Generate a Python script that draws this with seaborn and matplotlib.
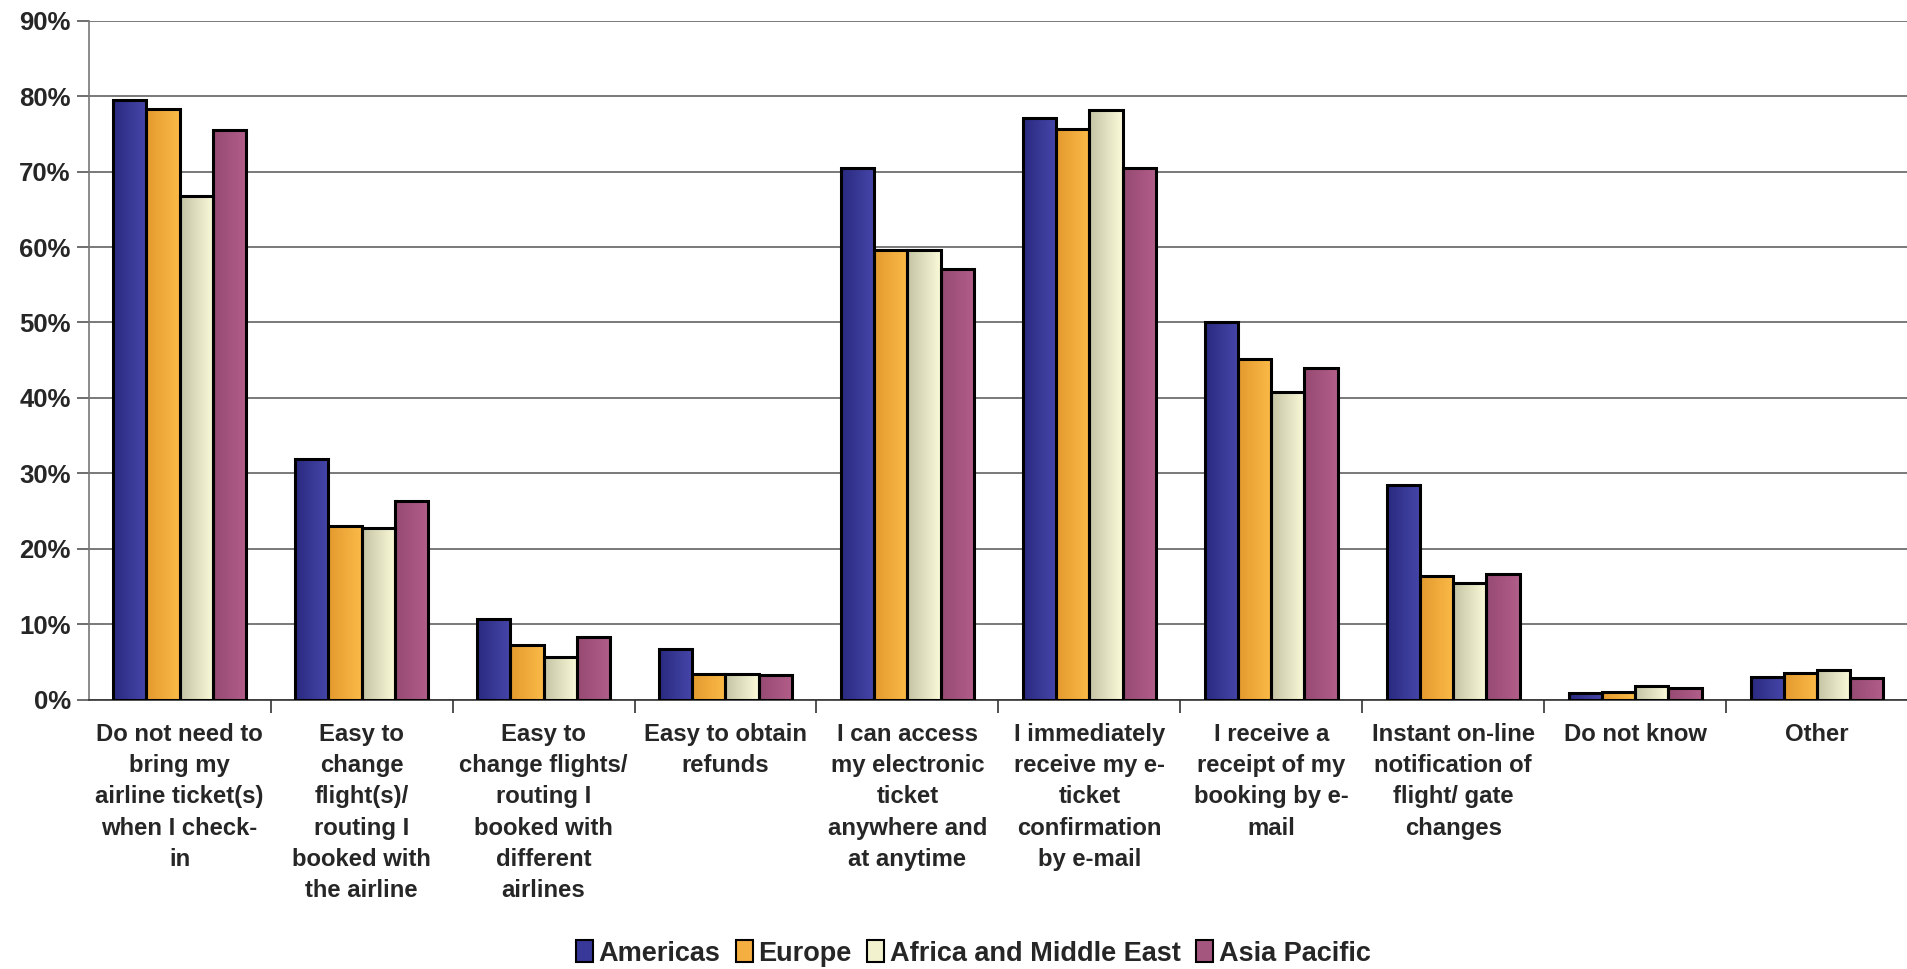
import numpy as np
import pandas as pd
import matplotlib
matplotlib.use("Agg")
import matplotlib.pyplot as plt
from matplotlib.colors import LinearSegmentedColormap
from matplotlib.patches import Patch
from matplotlib.ticker import FixedLocator, PercentFormatter
import seaborn as sns

# data
categories = [
    "Do not need to\nbring my\nairline ticket(s)\nwhen I check-\nin",
    "Easy to\nchange\nflight(s)/\nrouting I\nbooked with\nthe airline",
    "Easy to\nchange flights/\nrouting I\nbooked with\ndifferent\nairlines",
    "Easy to obtain\nrefunds",
    "I can access\nmy electronic\nticket\nanywhere and\nat anytime",
    "I immediately\nreceive my e-\nticket\nconfirmation\nby e-mail",
    "I receive a\nreceipt of my\nbooking by e-\nmail",
    "Instant on-line\nnotification of\nflight/ gate\nchanges",
    "Do not know",
    "Other",
]
regions = ["Americas", "Europe", "Africa and Middle East", "Asia Pacific"]
americas = [79.5, 31.9, 10.7, 6.7, 70.5, 77.1, 50.0, 28.4, 0.9, 3.0]
europe = [78.3, 23.0, 7.2, 3.4, 59.6, 75.6, 45.1, 16.4, 1.0, 3.5]
africa_me = [66.8, 22.8, 5.6, 3.4, 59.6, 78.1, 40.8, 15.4, 1.8, 3.9]
asia_pacific = [75.5, 26.3, 8.3, 3.3, 57.1, 70.5, 43.9, 16.7, 1.6, 2.8]

colors = ["#383898", "#F5AE40", "#F2F2CE", "#A5567F"]
grad_left = ["#2A2A80", "#E39A2E", "#C4C4A4", "#964A72"]
grad_right = ["#4646AA", "#FBBA48", "#FBFBDA", "#B25E8A"]

df = pd.DataFrame({
    "category": np.repeat(categories, len(regions)),
    "region": regions * len(categories),
    "value": np.column_stack([americas, europe, africa_me, asia_pacific]).ravel(),
})

sns.set_style("white")
plt.rcParams["font.family"] = ["Liberation Sans", "DejaVu Sans"]
plt.rcParams["font.weight"] = "bold"

fig = plt.figure(figsize=(19.08, 9.69), dpi=100)
ax = fig.add_axes([0.0465, 0.278, 0.9535, 0.7006])

sns.barplot(data=df, x="category", y="value", hue="region", hue_order=regions,
            palette=colors, width=0.73, edgecolor="black", linewidth=2.2,
            legend=False, ax=ax, zorder=3)

# horizontal gradient fill inside each bar, clipped to the bar
for k, container in enumerate(ax.containers):
    cmap = LinearSegmentedColormap.from_list(f"g{k}", [grad_left[k], grad_right[k]])
    for bar in container:
        x0, y0 = bar.get_x(), bar.get_y()
        w, h = bar.get_width(), bar.get_height()
        img = ax.imshow(np.linspace(0, 1, 64).reshape(1, -1), cmap=cmap,
                        extent=[x0, x0 + w, y0, y0 + h], aspect="auto",
                        zorder=2.5, interpolation="bilinear")
        img.set_clip_path(bar)
        bar.set_facecolor("none")

ax.set_xlim(-0.5, len(categories) - 0.5)
ax.set_ylim(0, 90)
ax.yaxis.set_major_locator(FixedLocator(np.arange(0, 91, 10)))
ax.yaxis.set_major_formatter(PercentFormatter(decimals=0))
ax.grid(axis="y", color="#555555", linewidth=1.1, zorder=0)
ax.set_axisbelow(True)

ax.xaxis.set_minor_locator(FixedLocator(np.arange(0.5, len(categories) + 0.5, 1)))
ax.tick_params(axis="x", which="major", length=0, pad=17, labelsize=17.2)
ax.tick_params(axis="x", which="minor", length=9, width=1.2, color="#333333",
               direction="out", bottom=True)
ax.tick_params(axis="y", length=9, width=1.2, color="#555555", direction="out",
               left=True, labelsize=18.5, pad=4)
for lab in ax.get_xticklabels():
    lab.set_linespacing(1.45)
    lab.set_fontweight("bold")
    lab.set_verticalalignment("top")
for lab in ax.get_yticklabels():
    lab.set_fontweight("bold")

ax.set_xlabel("")
ax.set_ylabel("")
for side in ["top", "right"]:
    ax.spines[side].set_visible(False)
ax.spines["left"].set_color("#777777")
ax.spines["left"].set_linewidth(1.2)
ax.spines["bottom"].set_color("#333333")
ax.spines["bottom"].set_linewidth(1.2)

handles = [Patch(facecolor=c, edgecolor="black", linewidth=1.5) for c in colors]
fig.legend(handles, regions, loc="center", bbox_to_anchor=(0.51, 0.016),
           ncol=4, frameon=False, prop={"weight": "bold", "size": 19.5},
           handlelength=0.65, handleheight=0.85, handletextpad=0.2,
           columnspacing=0.55, borderpad=0)

fig.savefig("out.png", dpi=100)
